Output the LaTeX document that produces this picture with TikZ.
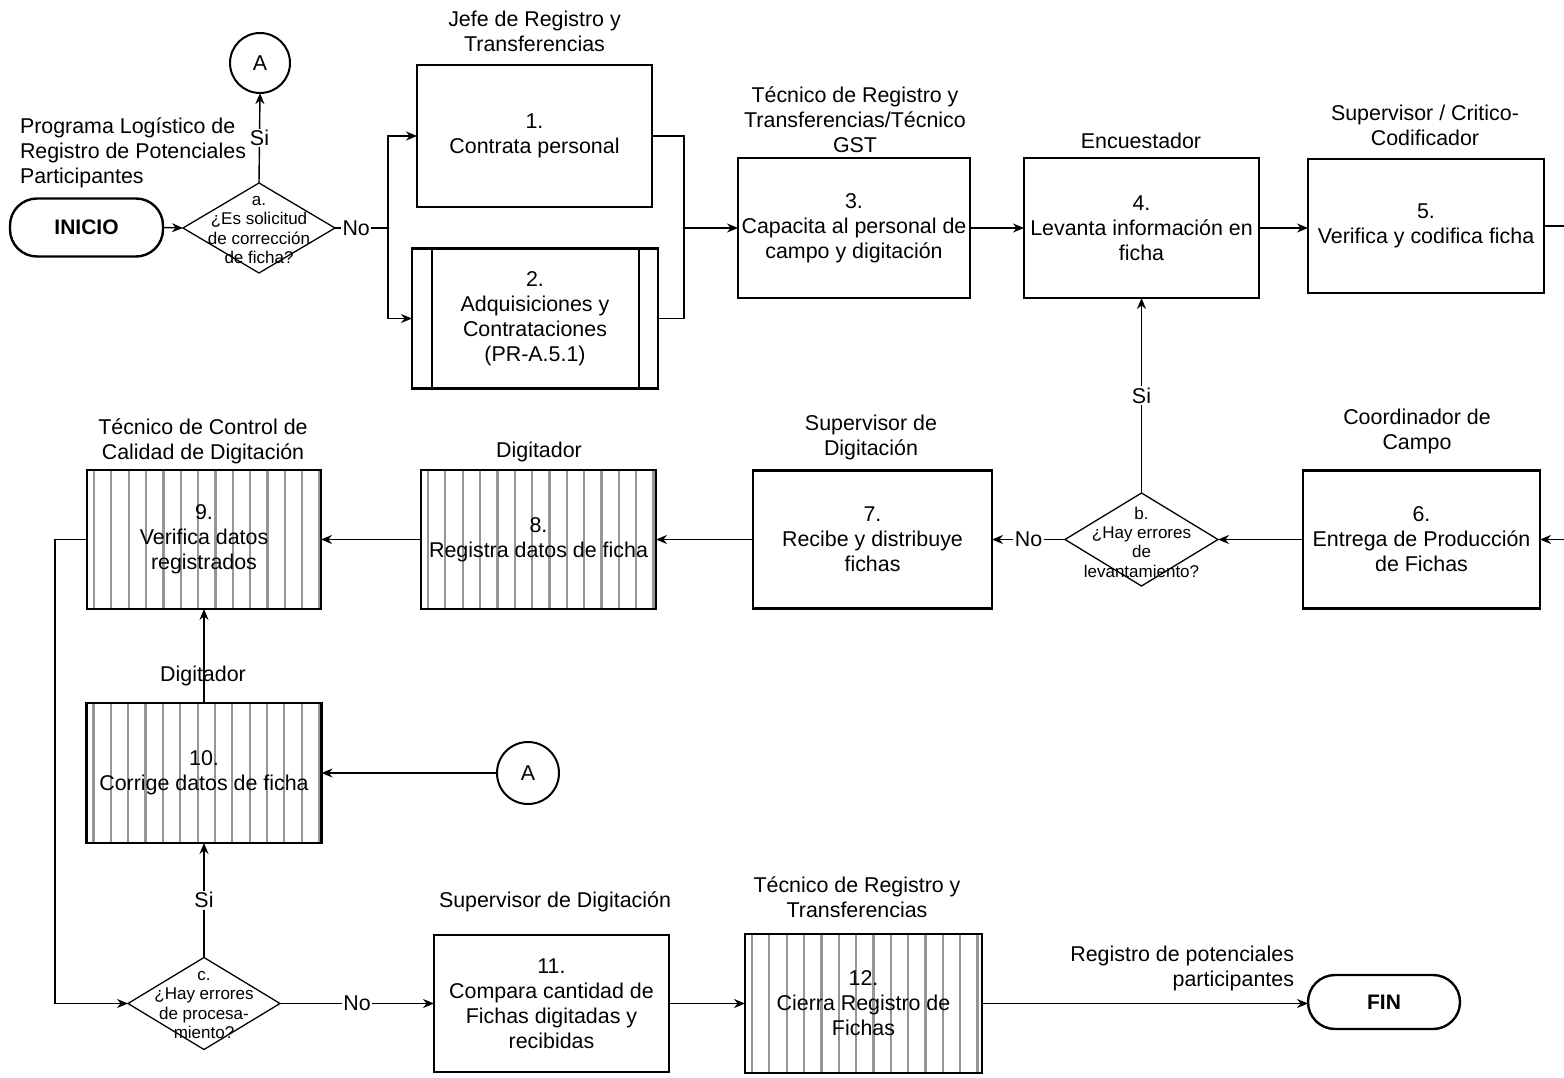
\documentclass[tikz,border=0pt]{standalone}
\usepackage{fontspec}
\setmainfont{Liberation Sans}
\usetikzlibrary{shapes.geometric,arrows.meta}
\definecolor{hatchgray}{RGB}{150,150,150}
\begin{document}
\begin{tikzpicture}[x=1pt,y=-1pt,
 every node/.style={font=\fontsize{21.4}{25}\selectfont, inner sep=0pt, outer sep=0pt, align=center},
 box/.style={draw, line width=2.6pt, rectangle},
 hatchl/.style={line width=2.2pt, draw=hatchgray},
 hatched/.style={box, path picture={\foreach \k in {0,...,13}{\draw[hatchl] ([xshift={7pt+17.35pt*\k}]path picture bounding box.south west) -- ([xshift={7pt+17.35pt*\k}]path picture bounding box.north west);}}},
 dec/.style={diamond, draw, line width=1.3pt},
 dtext/.style={font=\fontsize{17}{19.3}\selectfont},
 term/.style={draw, line width=2.4pt, rounded corners=27pt, font=\fontsize{21}{25}\selectfont\bfseries},
 circ/.style={circle, draw, line width=2pt},
 line/.style={line width=1.4pt},
 conn/.style={line width=1.4pt, -{Stealth[length=11pt,width=9pt]}},
 lab/.style={fill=white, inner sep=1.5pt}
]
\useasboundingbox (0,0) rectangle (1564,1078);

% terminals and connectors A
\node[term, minimum width=153pt, minimum height=58pt] (ini) at (86.5,227.5) {INICIO};
\node[term, minimum width=152pt, minimum height=54pt] (fin) at (1384,1002) {FIN};
\node[circ, minimum size=60pt] (A1) at (260,63) {A};
\node[circ, minimum size=62pt] (A2) at (528,773) {A};

% decisions
\node[dec, minimum width=152pt, minimum height=90pt] (a) at (259,228) {};
\node[dtext] (at) at (259,230) {a.\\¿Es solicitud\\de corrección\\de ficha?};
\node[dec, minimum width=153pt, minimum height=93pt] (b) at (1141.5,539.5) {};
\node[dtext] (bt) at (1141.5,542) {b.\\¿Hay errores\\de\\levantamiento?};
\node[dec, minimum width=152pt, minimum height=92pt] (c) at (204,1003.5) {};
\node[dtext] (ct) at (204,1005) {c.\\¿Hay errores\\de procesa-\\miento?};

% process boxes
\node[box, minimum width=235pt, minimum height=142pt] (b1) at (534.5,136) {1.\\Contrata personal};
\node[box, minimum width=246pt, minimum height=140pt] (b2) at (535,318.5) {2.\\Adquisiciones y\\Contrataciones\\(PR-A.5.1)};
\draw[line width=2.6pt] ([xshift=20pt]b2.north west) -- ([xshift=20pt]b2.south west);
\draw[line width=2.6pt] ([xshift=-19pt]b2.north east) -- ([xshift=-19pt]b2.south east);
\node[box, minimum width=232pt, minimum height=140pt] (b3) at (854,228) {3.\\Capacita al personal de\\campo y digitación};
\node[box, minimum width=235pt, minimum height=140pt] (b4) at (1141.5,228) {4.\\Levanta información en\\ficha};
\node[box, minimum width=236pt, minimum height=134pt] (b5) at (1426,226) {5.\\Verifica y codifica ficha};
\node[box, minimum width=237pt, minimum height=138pt] (b6) at (1421.5,539.5) {6.\\Entrega de Producción\\de Fichas};
\node[box, minimum width=239pt, minimum height=138pt] (b7) at (872.5,539.5) {7.\\Recibe y distribuye\\fichas};
\node[hatched, minimum width=235pt, minimum height=139pt] (b8) at (538.5,539.5) {8.\\Registra datos de ficha};
\node[hatched, minimum width=234pt, minimum height=139pt] (b9) at (204,539.5) {9.\\Verifica datos\\registrados};
\node[hatched, minimum width=235pt, minimum height=140pt] (b10) at (204,773) {10.\\Corrige datos de ficha};
\node[box, minimum width=235pt, minimum height=137pt] (b11) at (551.5,1003.5) {11.\\Compara cantidad de\\Fichas digitadas y\\recibidas};
\node[hatched, minimum width=237pt, minimum height=139pt] (b12) at (863.5,1003.5) {12.\\Cierra Registro de\\Fichas};

% headers
\node (h1) at (534.5,31) {Jefe de Registro y\\Transferencias};
\node (h3) at (855,120) {Técnico de Registro y\\Transferencias/Técnico\\GST};
\node (h4) at (1141,141) {Encuestador};
\node (h5) at (1425,125) {Supervisor / Critico-\\Codificador};
\node (h6) at (1417,431) {Coordinador de\\Campo};
\node (h7) at (871,437) {Supervisor de\\Digitación};
\node (h8) at (539,452) {Digitador};
\node (h9) at (203,441) {Técnico de Control de\\Calidad de Digitación};
\node (h10) at (203,676) {Digitador};
\node (h11) at (555,902) {Supervisor de Digitación};
\node (h12) at (857,897) {Técnico de Registro y\\Transferencias};
\node[anchor=west, align=left] (hini) at (20,153) {Programa Logístico de\\Registro de Potenciales\\Participantes};
\node[anchor=east, align=right] (hfin) at (1294,968) {Registro de potenciales\\participantes};

% helper coordinates
\coordinate (jA) at (388,228);
\coordinate (jB) at (684,228);
\coordinate (r1) at (1572,226);
\coordinate (l1) at (55,539.5);

% connectors
\draw[conn] (ini.east) -- (a.west);
\draw[conn] (a.north) -- node[lab]{Si} (A1.south);
\draw[line] (a.east) -- node[lab, pos=0.4]{No} (jA);
\draw[conn] (jA) |- (b1.west);
\draw[conn] (jA) |- (b2.west);
\draw[line] (b1.east) -| (jB) |- (b2.east);
\draw[conn] (jB) -- (b3.west);
\draw[conn] (b3.east) -- (b4.west);
\draw[conn] (b4.east) -- (b4.east -| b5.west);
\draw[conn] (b5.east) -- (r1) |- (b6.east);
\draw[conn] (b6.west) -- (b.east);
\draw[conn] (b.north) -- node[lab]{Si} (b4.south);
\draw[conn] (b.west) -- node[lab]{No} (b7.east);
\draw[conn] (b7.west) -- (b8.east);
\draw[conn] (b8.west) -- (b9.east);
\draw[conn] (b9.west) -- (l1) |- (c.west);
\draw[conn] (c.north) -- node[lab]{Si} (b10.south);
\draw[conn] (b10.north) -- (b9.south);
\draw[conn] (A2.west) -- (b10.east);
\draw[conn] (c.east) -- node[lab]{No} (b11.west);
\draw[conn] (b11.east) -- (b12.west);
\draw[conn] (b12.east) -- (b12.east -| fin.west);
\end{tikzpicture}
\end{document}
